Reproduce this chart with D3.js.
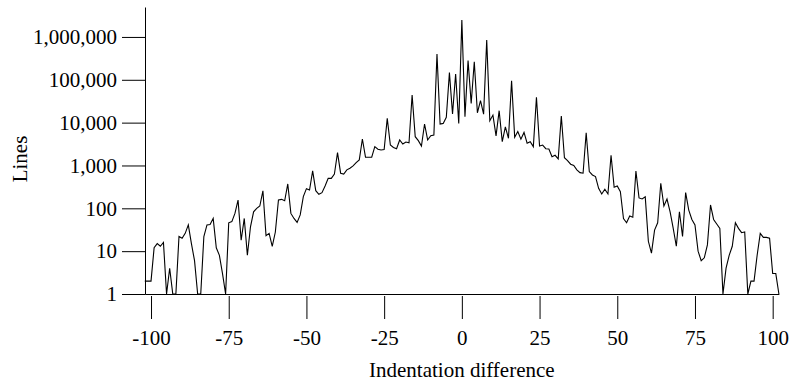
<!DOCTYPE html>
<html>
<head>
<meta charset="utf-8">
<script src="https://cdn.jsdelivr.net/npm/d3@7"></script>
<style>
  html, body { margin: 0; padding: 0; background: #fff; }
  svg { display: block; }
  text { font-family: "Liberation Serif", "Times New Roman", serif; fill: #000; }
</style>
</head>
<body>
<svg id="chart" width="791" height="383"></svg>
<script>
// ---- data ----
const diffStart = -102;
const diffEnd = 102;
const lineCounts = [
  2, 2, 2, 12, 15, 13, 16, 0, 4, 0,            // -102 .. -93
  0, 22, 20, 26, 41, 15, 6, 0, 0, 22,          // -92 .. -83
  41, 42, 58, 12, 8, 3, 0, 46, 49, 76,         // -82 .. -73
  156, 18, 58, 8, 37, 83, 100, 113, 256, 23,   // -72 .. -63
  26, 13, 28, 156, 162, 150, 370, 76, 58, 47,  // -62 .. -53
  70, 187, 288, 268, 745, 258, 212, 232, 331, 500, // -52 .. -43
  500, 630, 1990, 660, 630, 790, 860, 975, 1160, 1350, // -42 .. -33
  4150, 1560, 1560, 1560, 2750, 2400, 2290, 2350, 12600, 3000, // -32 .. -23
  2640, 2460, 3940, 3170, 3530, 3400, 44200, 4700, 3800, 2850, // -22 .. -13
  9300, 3940, 4950, 5100, 400000, 9300, 9600, 13300, 147000, 16000, // -12 .. -3
  136000, 9500, 2490000, 13800, 280000, 28000, 264000, 17000, 32600, 15800, // -2 .. 7
  850000, 11100, 15000, 4900, 19000, 3600, 8000, 4300, 95000, 4570, // 8 .. 17
  6200, 4100, 5900, 3300, 3600, 2750, 39000, 2850, 3000, 2460, // 18 .. 27
  2420, 1600, 1730, 1430, 14300, 1520, 1300, 1070, 1000, 790, // 28 .. 37
  680, 660, 5800, 720, 600, 550, 293, 216, 278, 216,   // 38 .. 47
  1730, 310, 331, 244, 58, 46, 66, 62, 745, 175,      // 48 .. 57
  165, 185, 17, 9, 31, 46, 384, 113, 165, 83,         // 58 .. 67
  34, 13, 83, 22, 232, 91, 55, 41, 10, 6,             // 68 .. 77
  7, 14, 120, 55, 43, 34, 0, 4, 8, 13,                // 78 .. 87
  46, 34, 27, 28, 0, 2, 2, 8, 26, 21,                 // 88 .. 97
  21, 20, 3, 3, 0                                     // 98 .. 102
];
const xTicks = [-100, -75, -50, -25, 0, 25, 50, 75, 100];
const yTicks = [1, 10, 100, 1000, 10000, 100000, 1000000];
const xTitle = "Indentation difference";
const yTitle = "Lines";

// ---- build ----
const diffs = d3.range(diffStart, diffEnd + 1);
const rows = diffs.map((d, i) => ({ diff: d, lines: lineCounts[i] }));

const svg = d3.select("#chart");
const x = d3.scaleLinear().domain([diffStart, diffEnd]).range([144.8, 778.9]);
const y = d3.scaleLog().domain([1, 5e6]).range([294, 7]).clamp(true);

const fontSize = 21;

// y axis
const yAxis = svg.append("g")
  .attr("transform", "translate(145,0)")
  .call(d3.axisLeft(y)
    .tickValues(yTicks)
    .tickFormat(d3.format(","))
    .tickSize(23)
    .tickSizeOuter(0)
    .tickPadding(5));
yAxis.selectAll("text")
  .style("font-size", fontSize + "px")
  .style("font-family", '"Liberation Serif", "Times New Roman", serif')
  .attr("fill", "#000");
yAxis.selectAll("line, path").attr("stroke", "#000");

// x axis
const xAxis = svg.append("g")
  .attr("transform", "translate(0,294)")
  .call(d3.axisBottom(x)
    .tickValues(xTicks)
    .tickFormat(d => String(d))
    .tickSize(25)
    .tickSizeOuter(0));
xAxis.selectAll(".tick line").attr("y1", 2).attr("stroke", "#000");
xAxis.select(".domain").attr("stroke", "#000");
xAxis.selectAll("text")
  .attr("y", 51)
  .attr("dy", 0)
  .style("font-size", fontSize + "px")
  .style("font-family", '"Liberation Serif", "Times New Roman", serif')
  .attr("fill", "#000");

// line
const line = d3.line()
  .x(d => x(d.diff))
  .y(d => y(d.lines));

svg.append("path")
  .datum(rows)
  .attr("fill", "none")
  .attr("stroke", "#000")
  .attr("stroke-width", 1.1)
  .attr("stroke-linejoin", "miter")
  .attr("d", line);

// titles
svg.append("text")
  .attr("x", x(0))
  .attr("y", 377)
  .attr("text-anchor", "middle")
  .style("font-size", fontSize + "px")
  .text(xTitle);

svg.append("text")
  .attr("transform", "translate(27,159) rotate(-90)")
  .attr("text-anchor", "middle")
  .style("font-size", fontSize + "px")
  .text(yTitle);
</script>
</body>
</html>
